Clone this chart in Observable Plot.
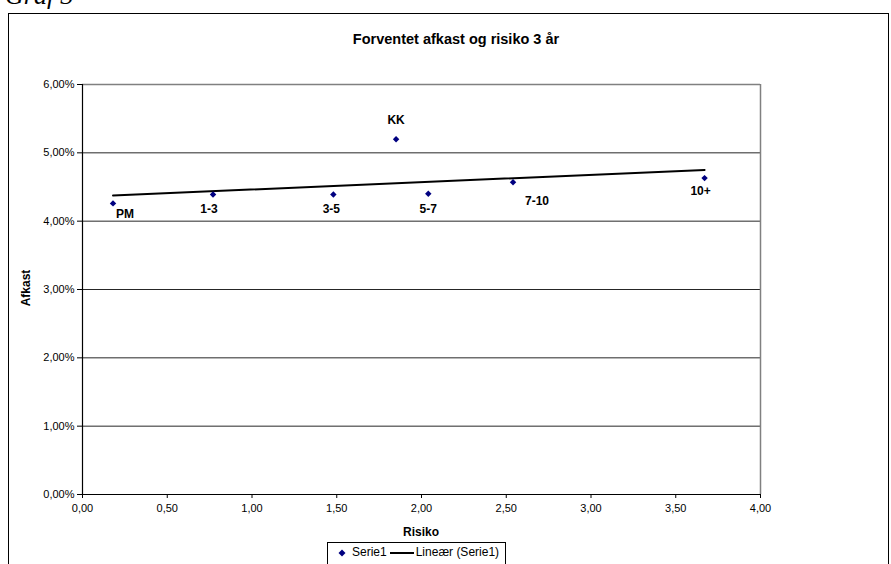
<!DOCTYPE html>
<html>
<head>
<meta charset="utf-8">
<script src="https://cdn.jsdelivr.net/npm/d3@7"></script>
<script src="https://cdn.jsdelivr.net/npm/@observablehq/plot@0.6"></script>
<style>
  html, body { margin: 0; padding: 0; width: 891px; height: 564px; overflow: hidden; background: #fff; }
  #wrap { position: relative; width: 891px; height: 564px; font-family: "Liberation Sans", Arial, sans-serif; }
  .abs { position: absolute; white-space: nowrap; }
  #frame { position: absolute; left: 8px; top: 13px; width: 879px; height: 700px; border: 1px solid #000; }
  #graf { left: 5px; top: -17px; font-family: "Liberation Serif", "Times New Roman", serif; font-style: italic; font-size: 26px; line-height: 26px; }
  #title { left: 456px; top: 31px; transform: translateX(-50%); font-weight: bold; font-size: 14.5px; line-height: 16px; }
  #ylab { left: 26px; top: 288px; transform: translate(-50%, -50%) rotate(-90deg); font-weight: bold; font-size: 12px; line-height: 14px; }
  #xlab { left: 421px; top: 532px; transform: translate(-50%, -50%); font-weight: bold; font-size: 12px; line-height: 14px; }
  #legend { left: 327px; top: 542px; border: 1px solid #000; padding: 2px 6px 4px 9px; font-size: 12px; line-height: 15px; display: flex; align-items: center; background: #fff; }
  #legend svg { display: block; }
  #chart { position: absolute; left: 0; top: 0; }
</style>
</head>
<body>
<div id="wrap">
  <div id="frame"></div>
  <div id="graf" class="abs">Graf 3</div>
  <div id="chart"></div>
  <div id="title" class="abs">Forventet afkast og risiko 3 år</div>
  <div id="ylab" class="abs">Afkast</div>
  <div id="xlab" class="abs">Risiko</div>
  <div id="legend" class="abs">
    <svg width="10" height="10"><path d="M5,1.5L8.5,5L5,8.5L1.5,5Z" fill="#000080"/></svg>
    <span style="margin-left:5px">Serie1</span>
    <svg width="26" height="10" style="margin-left:3px"><line x1="0" y1="5" x2="24" y2="5" stroke="#000" stroke-width="2"/></svg>
    <span>Lineær (Serie1)</span>
  </div>
</div>
<script>
// Data
const labels = ["PM", "1-3", "3-5", "KK", "5-7", "7-10", "10+"];
const risiko = [0.18, 0.77, 1.48, 1.85, 2.04, 2.54, 3.67];
const afkast = [4.26, 4.39, 4.39, 5.20, 4.40, 4.57, 4.63];
const xTicks = [0, 0.5, 1, 1.5, 2, 2.5, 3, 3.5, 4];
const yTicks = [0, 1, 2, 3, 4, 5, 6];
// label offsets (layout only)
const labelOffsets = [[12, 11], [-4, 15], [-2, 15], [0, -19], [0, 15], [24, 19], [-4, 13]];

const data = labels.map((l, i) => ({label: l, x: risiko[i], y: afkast[i]}));
const comma = (v, n) => v.toFixed(n).replace(".", ",");

const labelMarks = data.map((d, i) => Plot.text([d], {
  x: "x", y: "y", text: "label",
  dx: labelOffsets[i][0], dy: labelOffsets[i][1],
  fontWeight: "bold", fontSize: 12, fill: "#000"
}));

const chart = Plot.plot({
  width: 891,
  height: 564,
  marginLeft: 82,
  marginRight: 131,
  marginTop: 84,
  marginBottom: 70,
  style: {fontFamily: "'Liberation Sans', Arial, sans-serif", fontSize: "11px", background: "transparent", overflow: "visible"},
  x: {domain: [0, 4]},
  y: {domain: [0, 6]},
  marks: [
    Plot.ruleY(yTicks.filter(t => t > 0 && t < 6), {stroke: "#000", strokeWidth: 1, strokeOpacity: 0.85}),
    Plot.ruleY([6], {stroke: "#808080", strokeWidth: 1.5}),
    Plot.ruleX([4], {stroke: "#808080", strokeWidth: 1.5}),
    Plot.axisY({ticks: yTicks, tickSize: 5, tickPadding: 3, tickFormat: d => comma(d, 2) + "%", label: null, fill: "#000", stroke: "#000"}),
    Plot.axisX({ticks: xTicks, tickSize: 4, tickPadding: 6, tickFormat: d => comma(d, 2), label: null, fill: "#000", stroke: "#000"}),
    Plot.ruleX([0], {stroke: "#000", strokeWidth: 1.2}),
    Plot.ruleY([0], {stroke: "#000", strokeWidth: 1.2}),
    Plot.linearRegressionY(data, {x: "x", y: "y", ci: 0, stroke: "#000", strokeWidth: 2}),
    Plot.dot(data, {x: "x", y: "y", symbol: "diamond2", r: 2.9, fill: "#000080", stroke: "none"}),
    ...labelMarks
  ]
});
document.getElementById("chart").appendChild(chart);
</script>
</body>
</html>
